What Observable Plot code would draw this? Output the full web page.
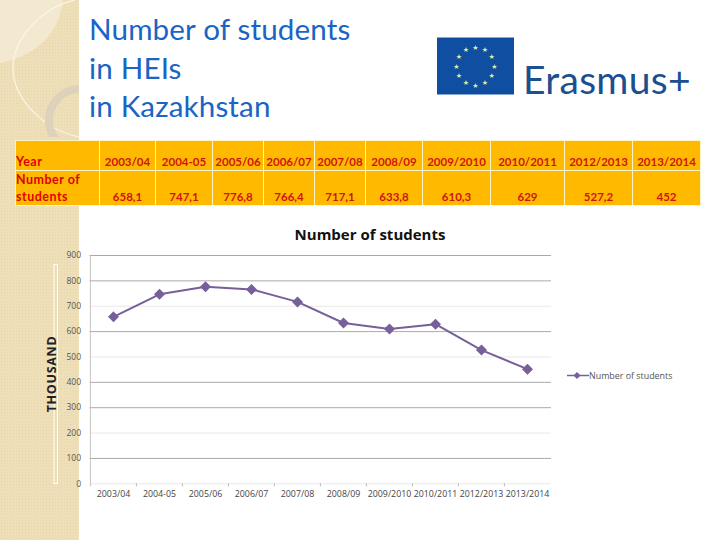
<!DOCTYPE html>
<html><head><meta charset="utf-8">
<script src="https://cdn.jsdelivr.net/npm/d3@7"></script>
<script src="https://cdn.jsdelivr.net/npm/@observablehq/plot@0.6"></script>
<style>
html,body{margin:0;padding:0;background:#fff;width:720px;height:540px;overflow:hidden}
.abs{position:absolute}
#band{left:0;top:0;width:79px;height:540px;background-color:#eedfb9;
 background-image:radial-gradient(#e6d6ac 0.8px,transparent 1px);background-size:3px 3px}
#title{left:89px;top:10px;font:29.6px/38.5px Lato,sans-serif;color:#1a64c6;letter-spacing:.15px}
#tbl{left:15px;top:140px;border-collapse:collapse;table-layout:fixed;background:#ffba00;font-family:Lato,sans-serif;font-weight:700;color:#cf1414}
#tbl td{border:1px solid #fff3c8;padding:0;text-align:center;vertical-align:bottom;font-size:11.5px;line-height:12px;padding-bottom:2px;overflow:hidden;white-space:nowrap}
#tbl td.h{text-align:left;font-size:12.5px;line-height:17px;color:#e00000;letter-spacing:.5px;white-space:normal;padding-bottom:0}
#erasmus{left:523px;top:56px;font:39px/46px Lato,sans-serif;color:#1c4f8f;letter-spacing:.3px}
#ctitle{left:170px;width:400px;top:225px;text-align:center;font:700 15px/18px "Open Sans",sans-serif;color:#111}
#legend{left:589px;top:369px;font:8.9px/13px "Open Sans",sans-serif;color:#555}
#thou{left:51px;top:374px;font:700 12.5px/13px "Open Sans",sans-serif;letter-spacing:.7px;color:#222;transform:translate(-50%,-50%) rotate(-90deg);white-space:nowrap}
svg{display:block}
</style></head><body>
<div id="band" class="abs"></div>
<svg id="decor" class="abs" style="left:0;top:0" width="720" height="540"></svg>
<div id="title" class="abs">Number of students<br>in HEIs<br>in Kazakhstan</div>
<div id="erasmus" class="abs">Erasmus+</div>
<table id="tbl" class="abs"></table>
<div id="ctitle" class="abs">Number of students</div>
<div id="thou" class="abs">THOUSAND</div>
<div id="chart" class="abs" style="left:0;top:0"></div>
<div id="legend" class="abs">Number of students</div>
<script>
const years = ["2003/04","2004-05","2005/06","2006/07","2007/08","2008/09","2009/2010","2010/2011","2012/2013","2013/2014"];
const students = [658.1,747.1,776.8,766.4,717.1,633.8,610.3,629,527.2,452];
const studentLabels = ["658,1","747,1","776,8","766,4","717,1","633,8","610,3","629","527,2","452"];
const darkGrid = [900,800,600,400,300,100];
const lightGrid = [700,500,200,0];
const yTicks = [0,100,200,300,400,500,600,700,800,900];
const colWidths = [84,56,57,51,51,51,57,68,74,68,68];

const rows = years.map((y,i)=>({year:y,value:students[i]}));

// table
const tbl = d3.select("#tbl").style("width",d3.sum(colWidths)+"px");
tbl.append("colgroup").selectAll("col").data(colWidths).join("col").style("width",d=>d+"px");
const r1 = tbl.append("tr").style("height","30px");
r1.append("td").attr("class","h").text("Year");
years.forEach(y=>r1.append("td").text(y));
const r2 = tbl.append("tr").style("height","33px");
r2.append("td").attr("class","h").html("Number of<br>students");
studentLabels.forEach(v=>r2.append("td").text(v));

// decoration
const decor = d3.select("#decor");
const clip = decor.append("clipPath").attr("id","c").append("rect").attr("width",79).attr("height",137);
const g = decor.append("g").attr("clip-path","url(#c)");
g.append("path").attr("d","M0 0H63C60 30 40 55 0 63Z").attr("fill","#f3e8d0");
g.append("path").attr("d","M75 0C40 8 12 40 13 70C14 100 45 130 79 137").attr("fill","none").attr("stroke","#fbf6e8").attr("stroke-width",1.2);
g.append("circle").attr("cx",80).attr("cy",120).attr("r",31).attr("fill","none").attr("stroke","#ddd2bb").attr("stroke-width",8);
decor.append("rect").attr("x",54).attr("y",264.5).attr("width",3.5).attr("height",219).attr("fill","none").attr("stroke","#fff").attr("stroke-width",1);
decor.append("rect").attr("x",437).attr("y",37.5).attr("width",77).attr("height",57).attr("fill","#0f4ea0");
d3.range(12).forEach(i=>{
  const a=i*Math.PI/6;
  decor.append("text").attr("x",475.3+19*Math.sin(a)).attr("y",66+19*Math.cos(a)+2.5)
    .attr("text-anchor","middle").attr("font-size",7).attr("font-family","DejaVu Sans").attr("fill","#dfeea0").text("★");
});
decor.append("line").attr("x1",567).attr("x2",589).attr("y1",375.5).attr("y2",375.5).attr("stroke","#77609a").attr("stroke-width",1.5);
decor.append("path").attr("d","M577 372L580.5 375.5L577 379L573.5 375.5Z").attr("fill","#77609a");

const boundaries = years.slice(1);
const chart = Plot.plot({
  width:720,height:540,
  marginLeft:89.5,marginRight:169,marginTop:255,marginBottom:56.7,
  style:{background:"transparent",overflow:"visible"},
  x:{type:"band",domain:years,padding:0,label:null},
  y:{domain:[0,900],label:null},
  marks:[
    Plot.ruleY(darkGrid,{stroke:"#a9a9a9",strokeWidth:1}),
    Plot.ruleY(lightGrid,{stroke:"#e8e8e8",strokeWidth:1}),
    Plot.ruleX(boundaries,{x:d=>d,dx:-23.08,y1:-12,y2:0,stroke:"#bbb"}),
    Plot.axisX({tickSize:0,tickPadding:7,fontSize:8.8,fontFamily:"'Open Sans',sans-serif",fill:"#444",anchor:"bottom"}),
    Plot.axisY({ticks:yTicks,tickSize:0,tickPadding:9,fontSize:8.5,fontFamily:"'Open Sans',sans-serif",fill:"#555",tickFormat:d=>String(d)}),
    Plot.ruleX([years[0]],{dx:-23.08,y1:-12,y2:900,stroke:"#c4c4c4"}),
    Plot.line(rows,{x:"year",y:"value",stroke:"#77609a",strokeWidth:2,curve:"linear"}),
    Plot.dot(rows,{x:"year",y:"value",symbol:"diamond2",r:4,fill:"#77609a",stroke:"#77609a"})
  ]
});
document.getElementById("chart").append(chart);
</script>
</body></html>
